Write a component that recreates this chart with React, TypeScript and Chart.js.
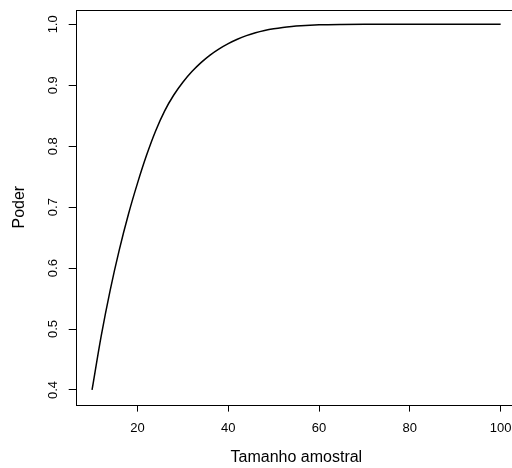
import React, { useEffect, useRef } from "react";
import { Chart, registerables } from "chart.js";

Chart.register(...registerables);

const sampleSizes = [10, 12, 14, 16, 18, 20, 22, 24, 26, 28, 30, 32, 34, 36, 38, 40, 42, 44, 46, 48, 50, 52, 54, 56, 58, 60, 65, 70, 80, 90, 100];
const power = [0.4, 0.488, 0.564, 0.63, 0.688, 0.739, 0.785, 0.825, 0.858, 0.884, 0.905, 0.9225, 0.9372, 0.9495, 0.9597, 0.9683, 0.9755, 0.9814, 0.9861, 0.9898, 0.9927, 0.9949, 0.9965, 0.9977, 0.9986, 0.9992, 0.9998, 1.0, 1.0, 1.0, 1.0];
const xTicks = [20, 40, 60, 80, 100];
const yTicks = [0.4, 0.5, 0.6, 0.7, 0.8, 0.9, 1.0];
const xTitle = "Tamanho amostral";
const yTitle = "Poder";

const FONT = "'Liberation Sans', Arial, Helvetica, sans-serif";
const TICK_SIZE = 13;
const TITLE_SIZE = 16;

const rPlugin = {
  id: "rStyle",
  afterDraw(chart: any) {
    const { ctx, chartArea, scales } = chart;
    ctx.save();
    ctx.strokeStyle = "#000";
    ctx.lineWidth = 1;
    ctx.strokeRect(
      Math.round(chartArea.left) + 0.5,
      Math.round(chartArea.top) + 0.5,
      Math.round(chartArea.right - chartArea.left),
      Math.round(chartArea.bottom - chartArea.top)
    );
    ctx.fillStyle = "#000";
    ctx.font = `${TICK_SIZE}px ${FONT}`;
    ctx.textAlign = "center";
    ctx.textBaseline = "middle";
    const ys = scales.y;
    for (const v of yTicks) {
      const py = ys.getPixelForValue(v);
      ctx.save();
      ctx.translate(53, py);
      ctx.rotate(-Math.PI / 2);
      ctx.fillText(v.toFixed(1), 0, 0);
      ctx.restore();
    }
    ctx.font = `${TITLE_SIZE}px ${FONT}`;
    ctx.fillText(xTitle, (chartArea.left + chartArea.right) / 2, 458);
    ctx.save();
    ctx.translate(20, (chartArea.top + chartArea.bottom) / 2);
    ctx.rotate(-Math.PI / 2);
    ctx.fillText(yTitle, 0, 0);
    ctx.restore();
    ctx.restore();
  },
};

export default function App() {
  const ref = useRef<HTMLCanvasElement>(null);
  useEffect(() => {
    document.body.style.margin = "0";
    document.body.style.overflow = "hidden";
    const chart = new Chart(ref.current!, {
      type: "line",
      data: {
        datasets: [
          {
            data: sampleSizes.map((n, i) => ({ x: n, y: power[i] })),
            borderColor: "#000",
            borderWidth: 1.5,
            pointRadius: 0,
            cubicInterpolationMode: "monotone",
            fill: false,
          },
        ],
      },
      options: {
        animation: false,
        responsive: false,
        events: [],
        layout: { padding: { top: 9.7, right: 13, left: 0, bottom: 0 } },
        plugins: { legend: { display: false }, tooltip: { enabled: false } },
        scales: {
          x: {
            type: "linear",
            min: 6.4,
            max: 103.6,
            afterBuildTicks: (s: any) => {
              s.ticks = xTicks.map((v) => ({ value: v }));
            },
            afterFit: (s: any) => {
              s.height = 63.4;
            },
            grid: { drawOnChartArea: false, drawTicks: true, tickLength: 7, color: "#000", lineWidth: 1 },
            border: { display: false },
            ticks: {
              color: "#000",
              font: { family: FONT, size: TICK_SIZE },
              padding: 9,
              maxRotation: 0,
              autoSkip: false,
              callback: (v: any) => String(v),
            },
          },
          y: {
            type: "linear",
            min: 0.376,
            max: 1.024,
            afterBuildTicks: (s: any) => {
              s.ticks = yTicks.map((v) => ({ value: v }));
            },
            afterFit: (s: any) => {
              s.width = 75.7;
            },
            grid: { drawOnChartArea: false, drawTicks: true, tickLength: 7, color: "#000", lineWidth: 1 },
            border: { display: false },
            ticks: { display: false },
          },
        },
      },
      plugins: [rPlugin],
    });
    return () => chart.destroy();
  }, []);
  return (
    <div style={{ position: "absolute", left: 0, top: 0, width: 530, height: 468, background: "#fff" }}>
      <canvas ref={ref} width={530} height={468} />
    </div>
  );
}
